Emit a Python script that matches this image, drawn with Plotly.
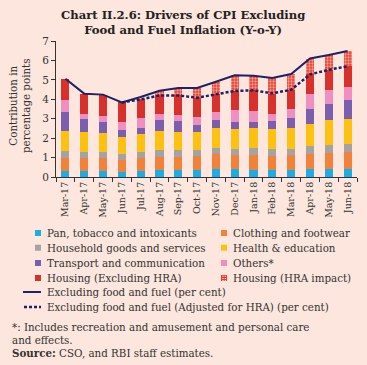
import plotly.graph_objects as go

months = ["Mar-17", "Apr-17", "May-17", "Jun-17", "Jul-17", "Aug-17", "Sep-17", "Oct-17",
          "Nov-17", "Dec-17", "Jan-18", "Feb-18", "Mar-18", "Apr-18", "May-18", "Jun-18"]

pan_tobacco = [0.31, 0.31, 0.29, 0.27, 0.31, 0.34, 0.34, 0.34, 0.41, 0.41, 0.38, 0.36, 0.38, 0.41, 0.41, 0.41]
clothing = [0.68, 0.68, 0.67, 0.62, 0.65, 0.69, 0.69, 0.72, 0.76, 0.70, 0.73, 0.72, 0.73, 0.76, 0.82, 0.86]
household = [0.35, 0.31, 0.33, 0.31, 0.31, 0.34, 0.34, 0.31, 0.34, 0.35, 0.37, 0.38, 0.35, 0.41, 0.40, 0.41]
health_edu = [1.01, 1.02, 0.97, 0.86, 0.93, 1.00, 0.95, 0.95, 1.03, 1.01, 1.02, 1.03, 1.08, 1.16, 1.29, 1.30]
transport = [1.01, 0.65, 0.55, 0.34, 0.30, 0.58, 0.56, 0.36, 0.38, 0.38, 0.31, 0.39, 0.48, 0.74, 0.82, 0.97]
others = [0.62, 0.25, 0.35, 0.41, 0.52, 0.27, 0.31, 0.41, 0.41, 0.58, 0.57, 0.38, 0.46, 0.77, 0.75, 0.68]
housing_ex_hra = [1.08, 1.07, 1.08, 1.03, 0.98, 0.98, 1.01, 0.99, 0.92, 1.00, 1.08, 1.03, 1.01, 1.03, 1.03, 1.06]
housing_hra = [0, 0, 0, 0, 0, 0.24, 0.38, 0.50, 0.65, 0.80, 0.72, 0.79, 0.79, 0.81, 0.76, 0.78]

excl_food_fuel = [5.06, 4.29, 4.24, 3.84, 4.12, 4.44, 4.58, 4.58, 4.90, 5.24, 5.21, 5.10, 5.30, 6.10, 6.28, 6.48]
excl_food_fuel_adj = [None, None, None, 3.84, 3.99, 4.20, 4.20, 4.08, 4.25, 4.43, 4.46, 4.31, 4.49, 5.28, 5.52, 5.70]

y_ticks = [0, 1, 2, 3, 4, 5, 6, 7]

W, H = 367, 365
L, R, T, B = 56, 10, 41, 188
PW, PH = W - L - R, H - T - B
BG = "#FCE6DD"
FONT = "DejaVu Serif"
NAVY = "#1E2163"
TXT = "#333333"
FS = 10.3

def px(x):
    return (x - L) / PW

def py(y):
    return (H - B - y) / PH

series = [
    ("Pan, tobacco and intoxicants", pan_tobacco, "#1BADE3"),
    ("Clothing and footwear", clothing, "#F2823A"),
    ("Household goods and services", household, "#A3A3A3"),
    ("Health & education", health_edu, "#FEC10F"),
    ("Transport and communication", transport, "#7B5EAE"),
    ("Others*", others, "#EF8EC0"),
    ("Housing (Excluding HRA)", housing_ex_hra, "#D8302A"),
]

fig = go.Figure()
for name, vals, col in series:
    fig.add_trace(go.Bar(x=months, y=vals, name=name, marker=dict(color=col, line=dict(width=0))))
fig.add_trace(go.Bar(x=months, y=housing_hra, name="Housing (HRA impact)",
                     marker=dict(color="#E8402C", line=dict(width=0),
                                 pattern=dict(shape=".", fgcolor="white", bgcolor="#E8402C",
                                              size=3, solidity=0.45))))
fig.add_trace(go.Scatter(x=months, y=excl_food_fuel, mode="lines", name="Excluding food and fuel (per cent)",
                         line=dict(color=NAVY, width=2)))
fig.add_trace(go.Scatter(x=months, y=excl_food_fuel_adj, mode="lines",
                         name="Excluding food and fuel (Adjusted for HRA) (per cent)",
                         line=dict(color=NAVY, width=2.5, dash="3px,2px")))

fig.update_layout(
    width=W, height=H, barmode="stack", bargap=0.57,
    margin=dict(l=L, r=R, t=T, b=B),
    paper_bgcolor=BG, plot_bgcolor=BG, showlegend=False,
    font=dict(family=FONT, size=FS, color=TXT),
)
fig.update_xaxes(type="category", tickangle=-90, tickson="boundaries", ticks="outside", ticklen=4,
                 tickcolor=TXT, showline=True, linecolor=TXT, linewidth=1,
                 showgrid=False, tickfont=dict(size=9.5, family=FONT, color=TXT))
fig.update_yaxes(range=[0, 7], tickvals=y_ticks, ticks="outside", ticklen=4, tickcolor=TXT,
                 showline=True, linecolor=TXT, linewidth=1, showgrid=False, zeroline=False,
                 tickfont=dict(size=10.5, family=FONT, color=TXT))

ann = []
ann.append(dict(text="<b>Chart II.2.6: Drivers of CPI Excluding<br>Food and Fuel Inflation (Y-o-Y)</b>",
                x=px(183), y=py(22), xref="paper", yref="paper", showarrow=False,
                xanchor="center", yanchor="middle", font=dict(size=11.6, family=FONT, color="#222222")))
ann.append(dict(text="Contribution in<br>percentage points", x=px(19), y=py(106), xref="paper", yref="paper",
                showarrow=False, textangle=-90, xanchor="center", yanchor="middle",
                font=dict(size=10.3, family=FONT, color=TXT)))

shapes = []
rows = [233, 247.7, 263, 278]
left_items = [series[0], series[2], series[4], series[6]]
right_items = [series[1], series[3], series[5]]

def label(text, x, y):
    ann.append(dict(text=text, x=px(x), y=py(y), xref="paper", yref="paper", showarrow=False,
                    xanchor="left", yanchor="middle", font=dict(size=FS, family=FONT, color=TXT)))

for i, (name, _, col) in enumerate(left_items):
    y = rows[i]
    shapes.append(dict(type="rect", xref="paper", yref="paper", x0=px(35), x1=px(41), y0=py(y - 3), y1=py(y + 3),
                       fillcolor=col, line=dict(width=0)))
    label(name, 45, y)
for i, (name, _, col) in enumerate(right_items):
    y = rows[i]
    shapes.append(dict(type="rect", xref="paper", yref="paper", x0=px(221), x1=px(227), y0=py(y - 3), y1=py(y + 3),
                       fillcolor=col, line=dict(width=0)))
    label(name, 231, y)
y = rows[3]
shapes.append(dict(type="rect", xref="paper", yref="paper", x0=px(221), x1=px(227), y0=py(y - 3), y1=py(y + 3),
                   fillcolor="#E8402C", line=dict(width=0)))
for dx in (222.5, 224.8):
    for dy in (-1.8, 0.4, 2.6):
        shapes.append(dict(type="rect", xref="paper", yref="paper", x0=px(dx), x1=px(dx + 1),
                           y0=py(y + dy - 0.5), y1=py(y + dy + 0.5), fillcolor="white", line=dict(width=0)))
label("Housing (HRA impact)", 231, y)

shapes.append(dict(type="line", xref="paper", yref="paper", x0=px(23), x1=px(41), y0=py(292), y1=py(292),
                   line=dict(color=NAVY, width=2)))
label("Excluding food and fuel (per cent)", 45, 292)
shapes.append(dict(type="line", xref="paper", yref="paper", x0=px(24), x1=px(41), y0=py(307), y1=py(307),
                   line=dict(color=NAVY, width=2.5, dash="3px,2px")))
label("Excluding food and fuel (Adjusted for HRA) (per cent)", 45, 307)

ann.append(dict(text="*: Includes recreation and amusement and personal care<br>and effects.",
                x=px(10), y=py(333), xref="paper", yref="paper", showarrow=False, xanchor="left",
                yanchor="middle", align="left", font=dict(size=FS, family=FONT, color=TXT)))
label("<b>Source:</b> CSO, and RBI staff estimates.", 10, 353)

fig.update_layout(annotations=ann, shapes=shapes)
fig.write_html("out.html", config={"displayModeBar": False},
               post_script="document.body.style.margin='0';document.body.style.padding='0';")
